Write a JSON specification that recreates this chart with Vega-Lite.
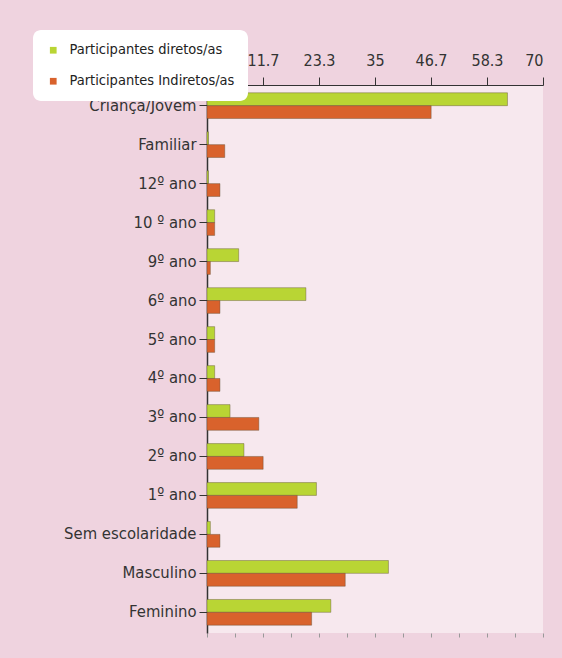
{
  "$schema": "https://vega.github.io/schema/vega-lite/v6.json",
  "width": 336,
  "height": 548,
  "autosize": {"type": "none"},
  "padding": {"left": 207, "top": 85, "right": 19, "bottom": 25},
  "background": "#efd3df",
  "view": {"fill": "#f7e8ee", "stroke": null},
  "config": {
    "font": "DejaVu Sans Condensed",
    "axis": {"labelFont": "DejaVu Sans Condensed", "labelColor": "#333333", "domainColor": "#333333", "tickColor": "#333333", "grid": false}
  },
  "data": {
    "values": [
      {"categoria": "Criança/Jovem", "serie": "Participantes diretos/as", "valor": 62.6},
      {"categoria": "Criança/Jovem", "serie": "Participantes Indiretos/as", "valor": 46.7},
      {"categoria": "Familiar", "serie": "Participantes diretos/as", "valor": 0.3},
      {"categoria": "Familiar", "serie": "Participantes Indiretos/as", "valor": 3.7},
      {"categoria": "12º ano", "serie": "Participantes diretos/as", "valor": 0.3},
      {"categoria": "12º ano", "serie": "Participantes Indiretos/as", "valor": 2.7},
      {"categoria": "10 º ano", "serie": "Participantes diretos/as", "valor": 1.6},
      {"categoria": "10 º ano", "serie": "Participantes Indiretos/as", "valor": 1.6},
      {"categoria": "9º ano", "serie": "Participantes diretos/as", "valor": 6.6},
      {"categoria": "9º ano", "serie": "Participantes Indiretos/as", "valor": 0.7},
      {"categoria": "6º ano", "serie": "Participantes diretos/as", "valor": 20.6},
      {"categoria": "6º ano", "serie": "Participantes Indiretos/as", "valor": 2.7},
      {"categoria": "5º ano", "serie": "Participantes diretos/as", "valor": 1.6},
      {"categoria": "5º ano", "serie": "Participantes Indiretos/as", "valor": 1.6},
      {"categoria": "4º ano", "serie": "Participantes diretos/as", "valor": 1.6},
      {"categoria": "4º ano", "serie": "Participantes Indiretos/as", "valor": 2.7},
      {"categoria": "3º ano", "serie": "Participantes diretos/as", "valor": 4.8},
      {"categoria": "3º ano", "serie": "Participantes Indiretos/as", "valor": 10.8},
      {"categoria": "2º ano", "serie": "Participantes diretos/as", "valor": 7.7},
      {"categoria": "2º ano", "serie": "Participantes Indiretos/as", "valor": 11.7},
      {"categoria": "1º ano", "serie": "Participantes diretos/as", "valor": 22.8},
      {"categoria": "1º ano", "serie": "Participantes Indiretos/as", "valor": 18.8},
      {"categoria": "Sem escolaridade", "serie": "Participantes diretos/as", "valor": 0.7},
      {"categoria": "Sem escolaridade", "serie": "Participantes Indiretos/as", "valor": 2.7},
      {"categoria": "Masculino", "serie": "Participantes diretos/as", "valor": 37.8},
      {"categoria": "Masculino", "serie": "Participantes Indiretos/as", "valor": 28.8},
      {"categoria": "Feminino", "serie": "Participantes diretos/as", "valor": 25.8},
      {"categoria": "Feminino", "serie": "Participantes Indiretos/as", "valor": 21.8}
    ]
  },
  "resolve": {"axis": {"x": "independent"}},
  "layer": [
    {
      "mark": {"type": "bar", "opacity": 0},
      "encoding": {
        "y": {"field": "categoria", "type": "nominal", "sort": null,
          "scale": {"paddingInner": 0.34, "paddingOuter": 0.2},
          "axis": {"title": null, "labelFontSize": 16.5, "labelPadding": 3, "tickSize": 8, "domainWidth": 1.5, "labelColor": "#333333"}},
        "x": {"field": "valor", "type": "quantitative", "scale": {"domain": [0, 70], "nice": false},
          "axis": {"orient": "bottom", "title": null, "labels": false, "domain": false, "tickSize": 4, "tickColor": "#999999",
            "values": [0, 5.833, 11.667, 17.5, 23.333, 29.167, 35, 40.833, 46.667, 52.5, 58.333, 64.167, 70]}}
      }
    },
    {
      "mark": {"type": "bar", "stroke": "#5a4a30", "strokeWidth": 0.4},
      "encoding": {
        "y": {"field": "categoria", "type": "nominal", "sort": null,
          "scale": {"paddingInner": 0.34, "paddingOuter": 0.2},
          "axis": {"title": null, "labelFontSize": 16.5, "labelPadding": 3, "tickSize": 8, "domainWidth": 1.5, "labelColor": "#333333"}},
        "yOffset": {"field": "serie", "type": "nominal", "sort": ["Participantes diretos/as", "Participantes Indiretos/as"]},
        "x": {"field": "valor", "type": "quantitative", "scale": {"domain": [0, 70], "nice": false},
          "axis": {"orient": "top", "title": null, "labelFontSize": 16, "labelPadding": 9, "tickSize": 8, "domainWidth": 1,
            "values": [11.667, 23.333, 35, 46.667, 58.333, 70], "format": ".1~f"}},
        "color": {"field": "serie", "type": "nominal",
          "scale": {"domain": ["Participantes diretos/as", "Participantes Indiretos/as"], "range": ["#b9d534", "#d9622c"]},
          "legend": {"title": null, "orient": "none", "legendX": -174, "legendY": -55, "fillColor": "#ffffff", "cornerRadius": 8,
            "padding": 13, "labelFontSize": 14.5, "labelFont": "DejaVu Sans Condensed", "labelColor": "#222222", "labelLimit": 300,
            "labelOffset": 9, "symbolType": "square", "symbolSize": 45, "rowPadding": 16, "symbolStrokeWidth": 0}}
      }
    }
  ]
}
